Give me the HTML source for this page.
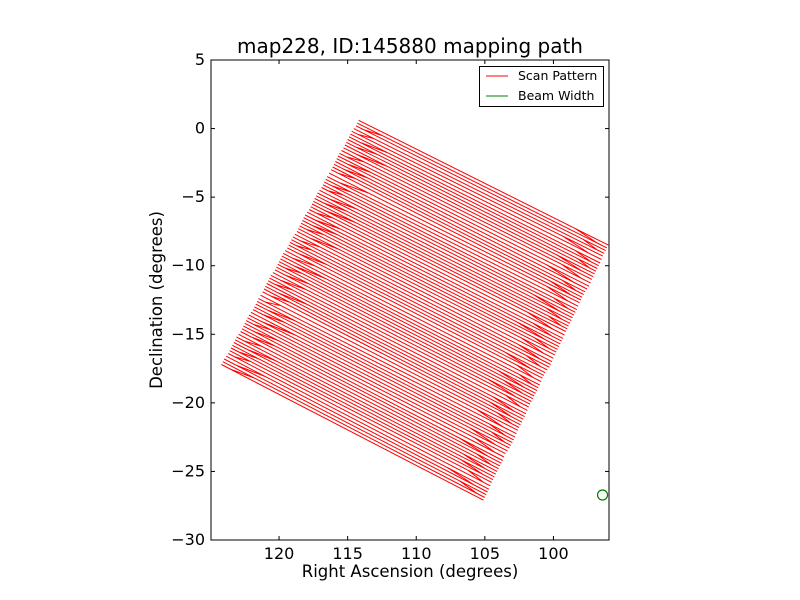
<!DOCTYPE html>
<html><head><meta charset="utf-8"><style>
body{margin:0;background:#fff;}
svg{display:block;font-family:"DejaVu Sans","Liberation Sans",sans-serif;}
</style></head><body>
<svg id="chart" width="800" height="600">
<rect width="800" height="600" fill="#fff"/>
<defs><clipPath id="clip"><rect x="211" y="60" width="398" height="480"/></clipPath></defs>
<text x="410" y="53" font-size="20" text-anchor="middle">map228, ID:145880 mapping path</text>
<g id="plot" clip-path="url(#clip)"></g>
<g id="axes"></g>
<rect x="211" y="60" width="398" height="480" fill="none" stroke="#000" stroke-width="1"/>
<text x="410" y="577" font-size="16.5" text-anchor="middle">Right Ascension (degrees)</text>
<text x="162" y="300" font-size="16.5" text-anchor="middle" transform="rotate(-90 162 300)">Declination (degrees)</text>
<g>
<rect x="479.5" y="66.5" width="124" height="40" fill="#fff" stroke="#000"/>
<line x1="486" y1="76" x2="508" y2="76" stroke="#f00"/>
<text x="518" y="80" font-size="12.5">Scan Pattern</text>
<line x1="486" y1="96" x2="508" y2="96" stroke="#008000"/>
<text x="518" y="100" font-size="12.5">Beam Width</text>
</g>
</svg>
<script>
const leftRA=[114.2,114.4,114.7,114.9,115.1,115.3,115.6,115.8,116.0,116.2,116.5,116.7,116.9,117.2,117.4,117.6,117.8,118.1,118.3,118.5,118.7,119.0,119.2,119.4,119.7,119.9,120.1,120.3,120.6,120.8,121.0,121.2,121.5,121.7,121.9,122.2,122.4,122.6,122.8,123.1,123.3,123.5,123.7,124.0,124.2];
const leftDec=[0.6,0.2,-0.2,-0.6,-1.0,-1.4,-1.8,-2.2,-2.6,-3.0,-3.5,-3.9,-4.3,-4.7,-5.1,-5.5,-5.9,-6.3,-6.7,-7.1,-7.5,-7.9,-8.3,-8.7,-9.1,-9.5,-9.9,-10.3,-10.7,-11.1,-11.5,-11.9,-12.4,-12.8,-13.2,-13.6,-14.0,-14.4,-14.8,-15.2,-15.6,-16.0,-16.4,-16.8,-17.2];
const rightRA=[96.0,96.2,96.4,96.6,96.8,97.0,97.2,97.4,97.7,97.9,98.1,98.3,98.5,98.7,98.9,99.1,99.3,99.5,99.7,99.9,100.1,100.3,100.6,100.8,101.0,101.2,101.4,101.6,101.8,102.0,102.2,102.4,102.6,102.8,103.0,103.2,103.5,103.7,103.9,104.1,104.3,104.5,104.7,104.9,105.1];
const rightDec=[-8.5,-8.9,-9.3,-9.8,-10.2,-10.6,-11.0,-11.5,-11.9,-12.3,-12.7,-13.2,-13.6,-14.0,-14.4,-14.8,-15.3,-15.7,-16.1,-16.5,-17.0,-17.4,-17.8,-18.2,-18.7,-19.1,-19.5,-19.9,-20.3,-20.8,-21.2,-21.6,-22.0,-22.5,-22.9,-23.3,-23.7,-24.2,-24.6,-25.0,-25.4,-25.8,-26.3,-26.7,-27.1];
const turnDepth=[0.13,0.09,0.16,0.10,0.08,0.15,0.12,0.17,0.09,0.13];
const beamRA=[96.42];
const beamDec=[-26.72];
const xTicks=[120,115,110,105,100];
const yTicks=[5,0,-5,-10,-15,-20,-25,-30];
const X0=211,X1=609,Y0=60,Y1=540,RAmax=124.96,RAmin=95.95,DECmax=5,DECmin=-30;
function xs(ra){return X0+(RAmax-ra)/(RAmax-RAmin)*(X1-X0);}
function ys(d){return Y0+(DECmax-d)/(DECmax-DECmin)*(Y1-Y0);}
const NS='http://www.w3.org/2000/svg';
const plot=document.getElementById('plot'),axes=document.getElementById('axes');
let pts=[];
function mix(a,b,t){return a+(b-a)*t;}
const n=leftRA.length;
for(let i=0;i<n;i++){
  const d1=turnDepth[i%turnDepth.length], d2=turnDepth[(i+3)%turnDepth.length];
  const L=[leftRA[i],leftDec[i]], R=[rightRA[i],rightDec[i]];
  pts.push(L);pts.push(R);
  if(i+1<n){
    const Lm=[(leftRA[i]+leftRA[i+1])/2,(leftDec[i]+leftDec[i+1])/2];
    const Rm=[(rightRA[i]+rightRA[i+1])/2,(rightDec[i]+rightDec[i+1])/2];
    pts.push([mix(R[0],L[0],d1),mix(R[1],L[1],d1)]);
    pts.push([mix(Rm[0],Lm[0],d1*0.3),mix(Rm[1],Lm[1],d1*0.3)]);
    pts.push(Rm);
    pts.push(Lm);
    const L2=[leftRA[i+1],leftDec[i+1]], R2=[rightRA[i+1],rightDec[i+1]];
    pts.push([mix(Lm[0],Rm[0],d2),mix(Lm[1],Rm[1],d2)]);
    pts.push([mix(L2[0],R2[0],d2*0.3),mix(L2[1],R2[1],d2*0.3)]);
  }
}
const path=document.createElementNS(NS,'polyline');
path.setAttribute('points',pts.map(p=>xs(p[0]).toFixed(1)+','+ys(p[1]).toFixed(1)).join(' '));
path.setAttribute('fill','none');path.setAttribute('stroke','#f00');path.setAttribute('stroke-width','1');


plot.appendChild(path);
for(let i=0;i<beamRA.length;i++){
  const c=document.createElementNS(NS,'circle');
  c.setAttribute('cx',xs(beamRA[i]));c.setAttribute('cy',ys(beamDec[i]));c.setAttribute('r',5);
  c.setAttribute('fill','none');c.setAttribute('stroke','#008000');c.setAttribute('stroke-width','1.2');
  
  
  plot.appendChild(c);
}
function line(x1,y1,x2,y2){const l=document.createElementNS(NS,'line');l.setAttribute('x1',x1);l.setAttribute('y1',y1);l.setAttribute('x2',x2);l.setAttribute('y2',y2);l.setAttribute('stroke','#000');return l;}
xTicks.forEach(t=>{
  const x=xs(t);
  const a=line(x,Y1,x,Y1-4);axes.appendChild(a);
  const b=line(x,Y0,x,Y0+4);axes.appendChild(b);
  const tx=document.createElementNS(NS,'text');tx.setAttribute('x',x);tx.setAttribute('y',Y1+19);tx.setAttribute('font-size','16');tx.setAttribute('text-anchor','middle');tx.textContent=String(t);
  
  
  axes.appendChild(tx);
});
yTicks.forEach(t=>{
  const y=ys(t);
  const a=line(X0,y,X0+4,y);axes.appendChild(a);
  const b=line(X1,y,X1-4,y);axes.appendChild(b);
  const tx=document.createElementNS(NS,'text');tx.setAttribute('x',X0-6);tx.setAttribute('y',y+5);tx.setAttribute('font-size','16');tx.setAttribute('text-anchor','end');tx.textContent=(t<0?'\u2212'+(-t):String(t));
  
  
  axes.appendChild(tx);
});
</script>
</body></html>
